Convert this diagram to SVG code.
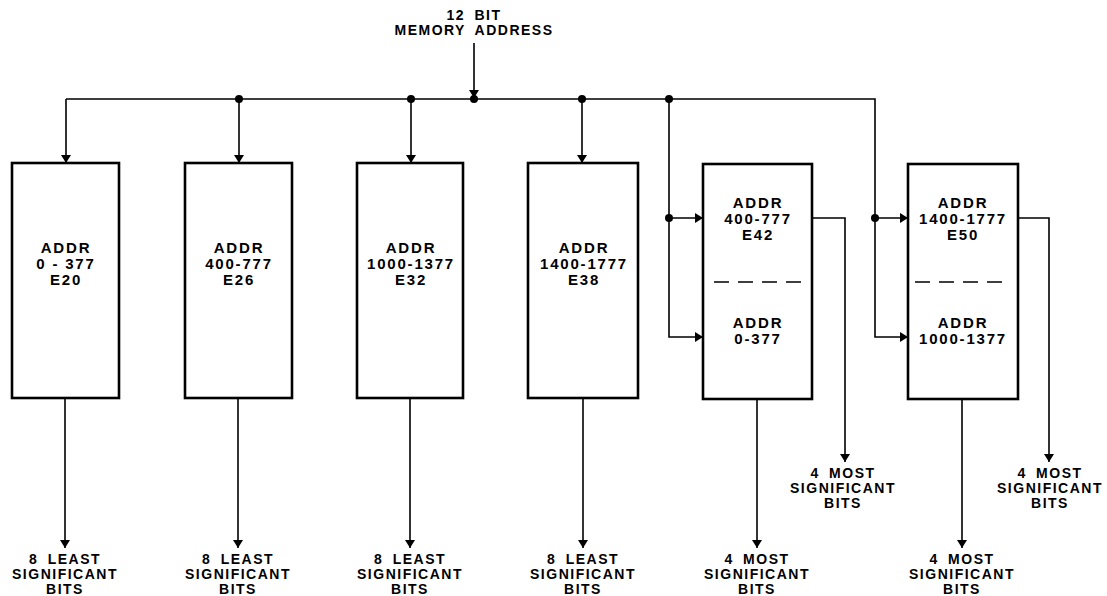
<svg xmlns="http://www.w3.org/2000/svg" width="1107" height="596" viewBox="0 0 1107 596">
<defs>
<marker id="ah" markerWidth="8" markerHeight="12" refX="8" refY="6" orient="auto" markerUnits="userSpaceOnUse">
<path d="M0,1 L8,6 L0,11 Z" fill="#000"/>
</marker>
<style>
.box{fill:#fff;stroke:#000;stroke-width:2.6}
.ln{fill:none;stroke:#000;stroke-width:1.6}
.ar{fill:none;stroke:#000;stroke-width:1.6;marker-end:url(#ah)}
.dot{fill:#000}
.dash{stroke:#000;stroke-width:1.6;stroke-dasharray:15 9}
text{font-family:"Liberation Sans",Arial,sans-serif;font-weight:bold;fill:#000;text-anchor:middle}
.t{font-size:15px;letter-spacing:1.8px}
.l{font-size:14px;letter-spacing:1.5px;word-spacing:4px}
</style>
</defs>
<g id="connectors">
<line class="ar" x1="474" y1="43" x2="474" y2="98"/>
<polyline class="ln" points="66,99 875,99 875,218"/>
<line class="ar" x1="66" y1="99" x2="66" y2="163"/>
<line class="ar" x1="239" y1="99" x2="239" y2="163"/>
<line class="ar" x1="411" y1="99" x2="411" y2="163"/>
<line class="ar" x1="582" y1="99" x2="582" y2="163"/>
<polyline class="ar" points="669,99 669,337 703,337"/>
<line class="ar" x1="669" y1="218" x2="703" y2="218"/>
<polyline class="ar" points="875,218 875,337 908,337"/>
<line class="ar" x1="875" y1="218" x2="908" y2="218"/>
<circle class="dot" cx="239" cy="99" r="4"/>
<circle class="dot" cx="411" cy="99" r="4"/>
<circle class="dot" cx="474" cy="99" r="4"/>
<circle class="dot" cx="582" cy="99" r="4"/>
<circle class="dot" cx="669" cy="99" r="4"/>
<circle class="dot" cx="669" cy="218" r="4"/>
<circle class="dot" cx="875" cy="218" r="4"/>
<line class="ar" x1="65" y1="398" x2="65" y2="548"/>
<line class="ar" x1="238" y1="398" x2="238" y2="548"/>
<line class="ar" x1="410" y1="398" x2="410" y2="548"/>
<line class="ar" x1="583" y1="398" x2="583" y2="548"/>
<line class="ar" x1="757" y1="399" x2="757" y2="548"/>
<line class="ar" x1="962" y1="399" x2="962" y2="548"/>
<polyline class="ar" points="812,218 845,218 845,462"/>
<polyline class="ar" points="1018,218 1049,218 1049,462"/>
</g>
<g id="title">
<text class="l" x="474" y="20">12 BIT</text>
<text class="l" x="474" y="35">MEMORY ADDRESS</text>
</g>
<g id="E20">
<rect class="box" x="12" y="163" width="107" height="235"/>
<text class="t" x="66" y="253">ADDR</text>
<text class="t" x="66" y="269">0 - 377</text>
<text class="t" x="66" y="285">E20</text>
</g>
<g id="E26">
<rect class="box" x="185" y="163" width="107" height="235"/>
<text class="t" x="239" y="253">ADDR</text>
<text class="t" x="239" y="269">400-777</text>
<text class="t" x="239" y="285">E26</text>
</g>
<g id="E32">
<rect class="box" x="357" y="163" width="106" height="235"/>
<text class="t" x="411" y="253">ADDR</text>
<text class="t" x="411" y="269">1000-1377</text>
<text class="t" x="411" y="285">E32</text>
</g>
<g id="E38">
<rect class="box" x="528" y="163" width="110" height="235"/>
<text class="t" x="584" y="253">ADDR</text>
<text class="t" x="584" y="269">1400-1777</text>
<text class="t" x="584" y="285">E38</text>
</g>
<g id="E42">
<rect class="box" x="703" y="164" width="109" height="235"/>
<text class="t" x="758" y="208">ADDR</text>
<text class="t" x="758" y="224">400-777</text>
<text class="t" x="758" y="240">E42</text>
<line class="dash" x1="714" y1="282" x2="806" y2="282"/>
<text class="t" x="758" y="328">ADDR</text>
<text class="t" x="758" y="344">0-377</text>
</g>
<g id="E50">
<rect class="box" x="908" y="164" width="110" height="235"/>
<text class="t" x="963" y="208">ADDR</text>
<text class="t" x="963" y="224">1400-1777</text>
<text class="t" x="963" y="240">E50</text>
<line class="dash" x1="915" y1="282" x2="1008" y2="282"/>
<text class="t" x="963" y="328">ADDR</text>
<text class="t" x="963" y="344">1000-1377</text>
</g>
<g id="outputs">
<text class="l" x="65" y="564">8 LEAST</text>
<text class="l" x="65" y="579">SIGNIFICANT</text>
<text class="l" x="65" y="594">BITS</text>
<text class="l" x="238" y="564">8 LEAST</text>
<text class="l" x="238" y="579">SIGNIFICANT</text>
<text class="l" x="238" y="594">BITS</text>
<text class="l" x="410" y="564">8 LEAST</text>
<text class="l" x="410" y="579">SIGNIFICANT</text>
<text class="l" x="410" y="594">BITS</text>
<text class="l" x="583" y="564">8 LEAST</text>
<text class="l" x="583" y="579">SIGNIFICANT</text>
<text class="l" x="583" y="594">BITS</text>
<text class="l" x="757" y="564">4 MOST</text>
<text class="l" x="757" y="579">SIGNIFICANT</text>
<text class="l" x="757" y="594">BITS</text>
<text class="l" x="962" y="564">4 MOST</text>
<text class="l" x="962" y="579">SIGNIFICANT</text>
<text class="l" x="962" y="594">BITS</text>
<text class="l" x="843" y="478">4 MOST</text>
<text class="l" x="843" y="493">SIGNIFICANT</text>
<text class="l" x="843" y="508">BITS</text>
<text class="l" x="1050" y="478">4 MOST</text>
<text class="l" x="1050" y="493">SIGNIFICANT</text>
<text class="l" x="1050" y="508">BITS</text>
</g>
</svg>
